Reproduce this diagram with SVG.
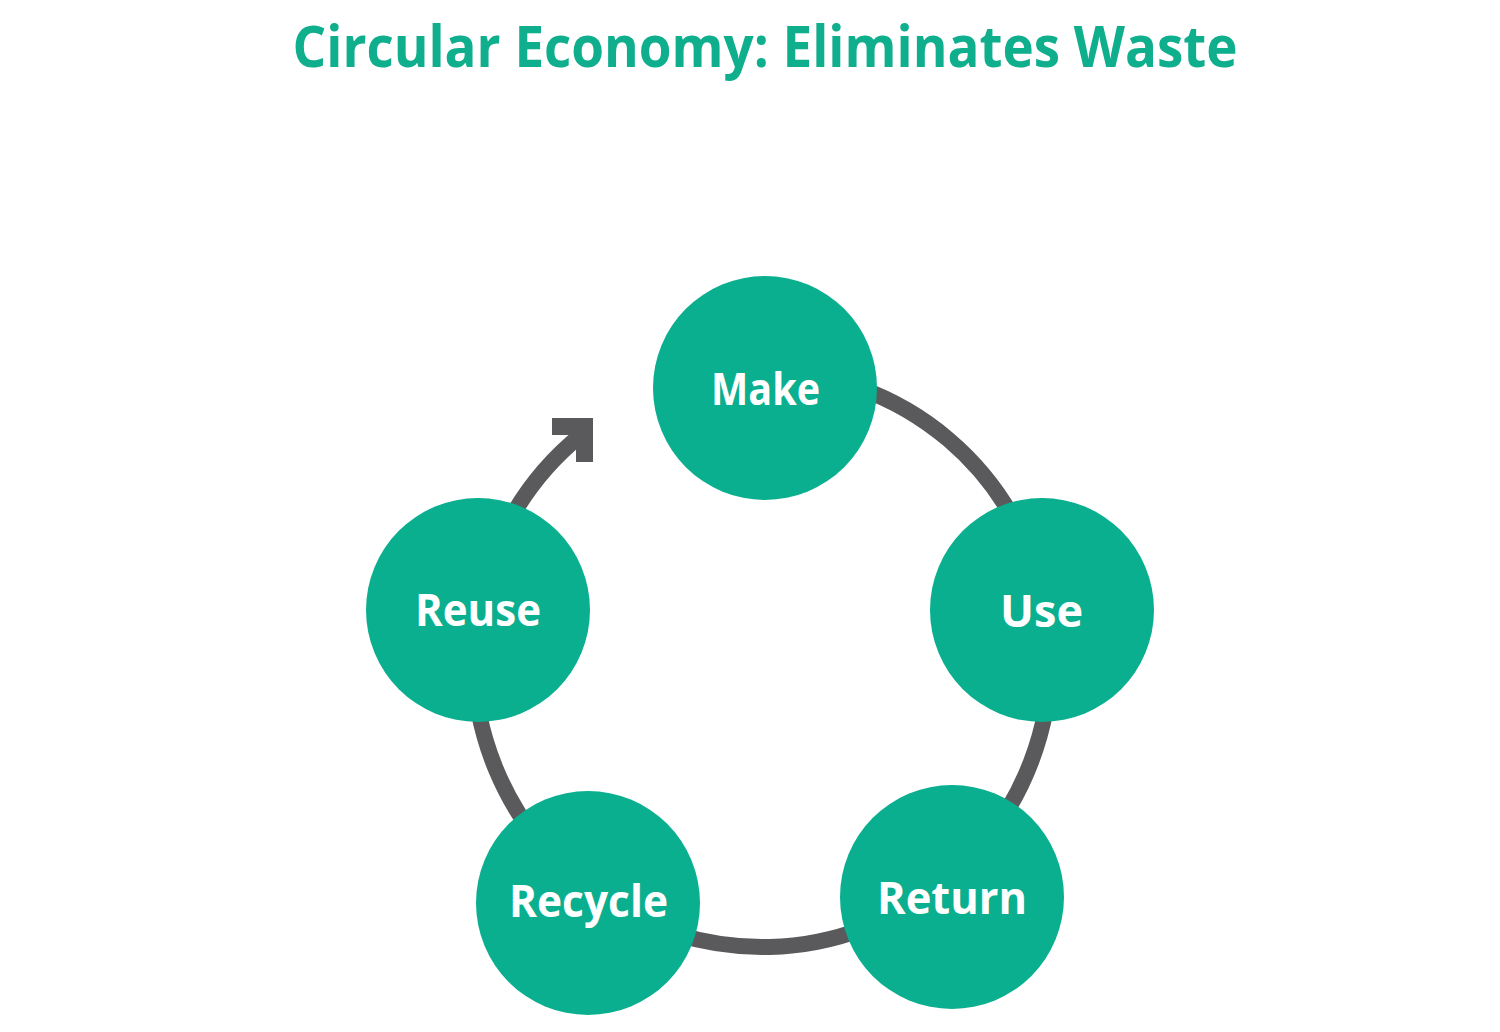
<svg xmlns="http://www.w3.org/2000/svg" width="1500" height="1032" viewBox="0 0 1500 1032">
  <style>
    .title { font-family: "Open Sans", "Noto Sans", "Liberation Sans", sans-serif; font-weight: 700; font-size: 58px; fill: #0fae8c; }
    .node circle { fill: #0aaf8f; }
    .node text { font-family: "Open Sans", "Noto Sans", "Liberation Sans", sans-serif; font-weight: 700; font-size: 45px; fill: #ffffff; text-anchor: middle; }
    .ring { fill: none; stroke: #5a595b; stroke-width: 16; }
    .head { fill: #5a595b; }
  </style>
  <rect width="1500" height="1032" fill="#ffffff"/>
  <text class="title" x="765" y="67" text-anchor="middle" textLength="945" lengthAdjust="spacingAndGlyphs">Circular Economy: Eliminates Waste</text>

  <g id="connectors">
    <path class="ring" d="M 765 371 A 288 288 0 0 1 1045.7 609.5"/>
    <path class="ring" d="M 1045.7 609.5 A 288 288 0 0 1 941.7 884.1"/>
    <path class="ring" d="M 941.7 884.1 A 288 288 0 0 1 594.8 893.5"/>
    <path class="ring" d="M 594.8 893.5 A 288 288 0 0 1 478 611"/>
    <path class="ring" d="M 478 611 A 288 288 0 0 1 581 435"/>
    <polygon class="head" points="552,418 593,418 593,462 576,462 576,435 552,435"/>
  </g>

  <g id="node-make" class="node">
    <circle cx="765" cy="388" r="112"/>
    <text x="765.5" y="405" textLength="109" lengthAdjust="spacingAndGlyphs">Make</text>
  </g>
  <g id="node-use" class="node">
    <circle cx="1042" cy="610" r="112"/>
    <text x="1041.5" y="627" textLength="83" lengthAdjust="spacingAndGlyphs">Use</text>
  </g>
  <g id="node-return" class="node">
    <circle cx="952" cy="897" r="112"/>
    <text x="952" y="914" textLength="150" lengthAdjust="spacingAndGlyphs">Return</text>
  </g>
  <g id="node-recycle" class="node">
    <circle cx="588" cy="903" r="112"/>
    <text x="588.5" y="917" textLength="159" lengthAdjust="spacingAndGlyphs">Recycle</text>
  </g>
  <g id="node-reuse" class="node">
    <circle cx="478" cy="610" r="112"/>
    <text x="478" y="626" textLength="126" lengthAdjust="spacingAndGlyphs">Reuse</text>
  </g>
</svg>
